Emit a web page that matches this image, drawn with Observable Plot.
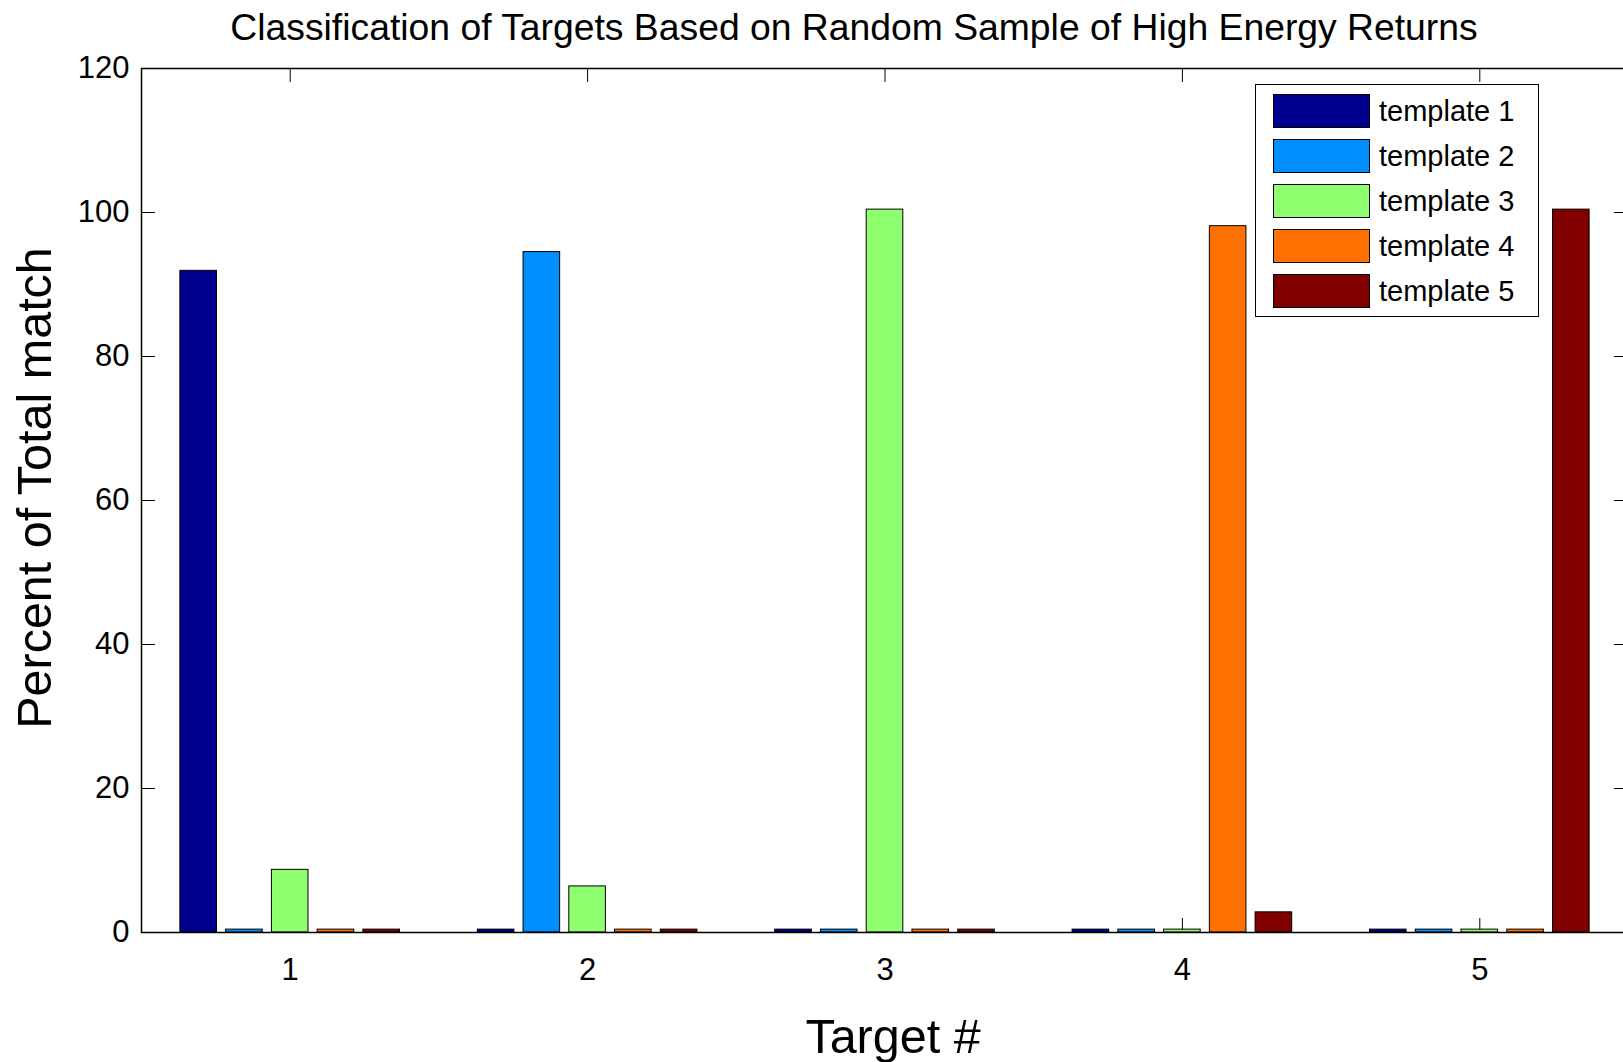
<!DOCTYPE html>
<html>
<head>
<meta charset="utf-8">
<script src="https://cdn.jsdelivr.net/npm/d3@7"></script>
<script src="https://cdn.jsdelivr.net/npm/@observablehq/plot@0.6"></script>
<style>
  html, body { margin: 0; padding: 0; overflow: hidden; background: #fff; }
  #wrap { position: relative; width: 1623px; height: 1062px; overflow: hidden;
          font-family: "Liberation Sans", Arial, Helvetica, sans-serif; color: #000; }
  #chart { position: absolute; left: 0; top: 0; width: 1640px; }
  #chart svg { max-width: none !important; }
  .lbl { position: absolute; white-space: nowrap; transform-origin: 0 0; }
  #legend { position: absolute; left: 1255px; top: 84px; width: 282px; height: 231px;
            border: 1px solid #000; background: #fff; }
  .lrow { position: absolute; left: 17px; display: flex; align-items: center; height: 34px; }
  .sw { width: 95px; height: 32px; border: 1px solid #000; }
  .lt { margin-left: 9px; font-size: 29px; line-height: 34px; }
</style>
</head>
<body>
<div id="wrap">
  <div id="chart"></div>
</div>
<script>
// ---------- data ----------
const targets = [1, 2, 3, 4, 5];
const templates = ["template 1", "template 2", "template 3", "template 4", "template 5"];
const template1 = [91.9, 0.4, 0.4, 0.4, 0.4];
const template2 = [0.4, 94.5, 0.4, 0.4, 0.4];
const template3 = [8.7, 6.4, 100.4, 0.4, 0.4];
const template4 = [0.4, 0.4, 0.4, 98.1, 0.4];
const template5 = [0.4, 0.4, 0.4, 2.8, 100.4];
const colors = ["#00008F", "#008FFF", "#8FFF70", "#FF7000", "#800000"];
const yTicks = [0, 20, 40, 60, 80, 100, 120];
const titleText = "Classification of Targets Based on Random Sample of High Energy Returns";
const xLabelText = "Target #";
const yLabelText = "Percent of Total match";

// ---------- layout ----------
const W = 1640, H = 1062;
const mL = 141, mR = 12, mT = 68, mB = 130;
const innerW = W - mL - mR, innerH = H - mT - mB;
const tickLen = 14;
const groupWidth = templates.length / (templates.length + 1.5);
const slot = groupWidth / templates.length;
const barW = 0.8 * slot;
const font = '"Liberation Sans", Arial, Helvetica, sans-serif';

const series = [template1, template2, template3, template4, template5];
const rows = templates.flatMap((t, k) =>
  targets.map((tg, j) => ({target: tg, template: t, k, value: series[k][j]})));

const center = d => d.target + (d.k - (templates.length - 1) / 2) * slot;

const chart = Plot.plot({
  width: W, height: H,
  marginLeft: mL, marginRight: mR, marginTop: mT, marginBottom: mB,
  style: {fontFamily: font, fontSize: "31px", color: "#000", background: "transparent", maxWidth: "none"},
  x: {domain: [0.5, 5.5], axis: null},
  y: {domain: [0, 120], axis: null},
  color: {domain: templates, range: colors},
  marks: [
    // inward ticks on all four sides
    Plot.tickX(targets, {x: d => d, stroke: "#000", strokeWidth: 1, insetTop: innerH - tickLen}),
    Plot.tickX(targets, {x: d => d, stroke: "#000", strokeWidth: 1, insetBottom: innerH - tickLen}),
    Plot.tickY(yTicks, {y: d => d, stroke: "#000", strokeWidth: 1, insetRight: innerW - tickLen}),
    Plot.tickY(yTicks, {y: d => d, stroke: "#000", strokeWidth: 1, insetLeft: innerW - tickLen}),
    // bars
    Plot.rect(rows, {
      x1: d => center(d) - barW / 2,
      x2: d => center(d) + barW / 2,
      y1: 0, y2: "value",
      fill: "template", stroke: "#000", strokeWidth: 1
    }),
    Plot.frame({stroke: "#000", strokeWidth: 1.5}),
    // tick labels
    Plot.axisX(targets, {anchor: "bottom", tickSize: 0, tickPadding: 25, tickFormat: "d", label: null, fontSize: 31}),
    Plot.axisY(yTicks, {anchor: "left", tickSize: 0, tickPadding: 12, label: null, fontSize: 31})
  ]
});
chart.style.maxWidth = "none";
document.getElementById("chart").appendChild(chart);

// ---------- title & axis labels (HTML text) ----------
const wrap = document.getElementById("wrap");
function addLabel(text, fs, x, baseline, rotate) {
  const el = document.createElement("div");
  el.className = "lbl";
  el.textContent = text;
  el.style.fontSize = fs + "px";
  el.style.lineHeight = fs + "px";
  const base = fs * 0.8465; // baseline offset from top with line-height = font-size
  el.style.left = x + "px";
  el.style.top = baseline + "px";
  el.style.transform = (rotate ? "rotate(-90deg) " : "") + `translate(-50%, ${-base}px)`;
  wrap.appendChild(el);
}
addLabel(titleText, 37.3, 854, 41, false);
addLabel(xLabelText, 48.5, 893, 1053, false);
addLabel(yLabelText, 48.5, 51, 488, true);

// ---------- legend ----------
const legend = document.createElement("div");
legend.id = "legend";
templates.forEach((t, i) => {
  const row = document.createElement("div");
  row.className = "lrow";
  row.style.top = (9 + i * 45) + "px";
  const sw = document.createElement("div");
  sw.className = "sw";
  sw.style.background = colors[i];
  const tx = document.createElement("span");
  tx.className = "lt";
  tx.textContent = t;
  row.appendChild(sw);
  row.appendChild(tx);
  legend.appendChild(row);
});
wrap.appendChild(legend);
</script>
</body>
</html>
